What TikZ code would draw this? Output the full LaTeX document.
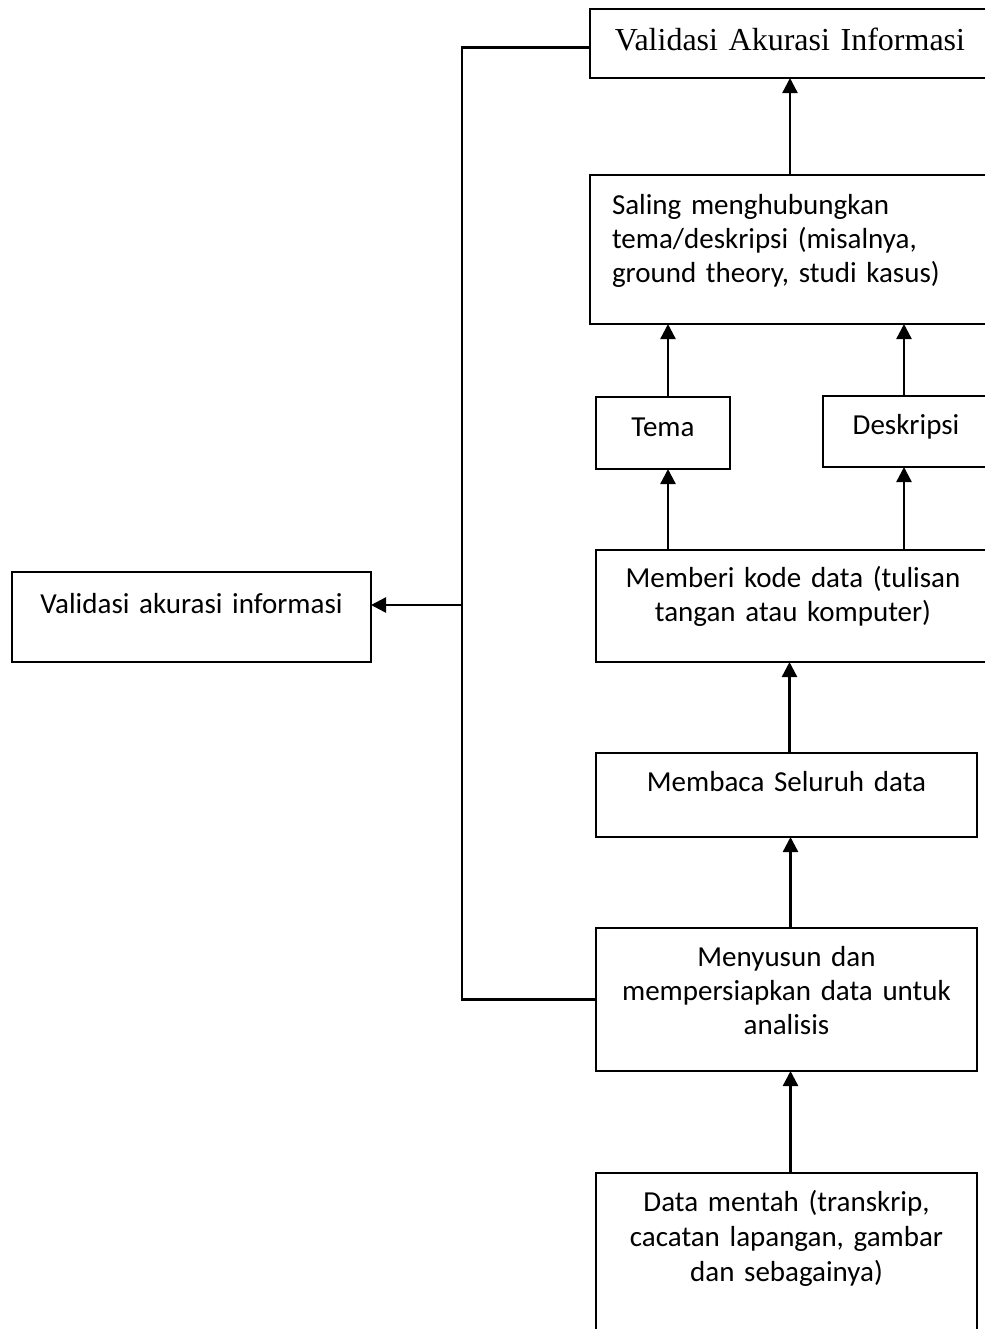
\documentclass[tikz,border=0pt]{standalone}
\usepackage{fontspec}
\setmainfont{Carlito}
\newfontfamily\serifkop{Liberation Serif}
\usetikzlibrary{arrows.meta}

\tikzset{
  kotak/.style={draw, line width=0.6pt, inner sep=0pt, outer sep=0pt, anchor=north west,
    align=center, font=\fontsize{14.5pt}{17pt}\selectfont},
  panah/.style={line width=1.2pt, ->, >={Triangle[length=7.5pt,width=7.5pt]}},
  balik/.style={line width=1.1pt}
}

\begin{document}
\begin{tikzpicture}[x=0.5pt,y=-0.5pt]
                \path[use as bounding box, clip] (0,0) rectangle (985,1329);
                % kotak-kotak
                \node[kotak, text width=200pt, text height=20.5pt, text depth=14pt,
                  font=\serifkop\fontsize{16pt}{19pt}\selectfont] (atas) at (590,9) {Validasi Akurasi Informasi};
                \node[kotak, text width=178pt, inner xsep=11pt, align=left, text height=19.5pt, text depth=55pt] (sintesis) at (590,175)
                  {Saling menghubungkan\\tema/deskripsi (misalnya,\\ground theory, studi kasus)};
                \node[kotak, text width=67pt, text height=19.5pt, text depth=16.5pt] (tema) at (596,397) {Tema};
                \node[kotak, text width=83pt, text height=19pt, text depth=16.5pt] (deskripsi) at (823,396) {Deskripsi};
                \node[kotak, text width=197pt, text height=18.5pt, text depth=37.5pt] (kode) at (596,550)
                  {Memberi kode data (tulisan\\tangan atau komputer)};
                \node[kotak, text width=190.5pt, text height=19pt, text depth=23pt] (baca) at (596,753) {Membaca Seluruh data};
                \node[kotak, text width=190.5pt, text height=19pt, text depth=52.5pt] (susun) at (596,928)
                  {Menyusun dan\\mempersiapkan data untuk\\analisis};
                \node[kotak, text width=190.5pt, text height=19pt, text depth=81pt,
                  font=\fontsize{14.5pt}{17.5pt}\selectfont] (mentah) at (596,1173)
                  {Data mentah (transkrip,\\cacatan lapangan, gambar\\dan sebagainya)};
                \node[kotak, text width=179.5pt, text height=20.5pt, text depth=24.5pt] (kiri) at (12,572) {Validasi akurasi informasi};
                \coordinate (simpul) at (462,605);
                % panah ke atas
                \draw[panah] ([xshift=2pt]mentah.north) -- ([xshift=2pt]mentah.north |- susun.south);
                \draw[panah] ([xshift=2pt]susun.north) -- ([xshift=2pt]susun.north |- baca.south);
                \draw[panah] ([xshift=1.5pt]baca.north) -- ([xshift=1.5pt]baca.north |- kode.south);
                \draw[panah] ([xshift=2.5pt]kode.north -| tema.south) -- ([xshift=2.5pt]tema.south);
                \draw[panah] ([xshift=-1pt]kode.north -| deskripsi.south) -- ([xshift=-1pt]deskripsi.south);
                \draw[panah] ([xshift=2.5pt]tema.north) -- ([xshift=2.5pt]tema.north |- sintesis.south);
                \draw[panah] ([xshift=-1pt]deskripsi.north) -- ([xshift=-1pt]deskripsi.north |- sintesis.south);
                \draw[panah] (sintesis.north) -- (atas.south);
                % garis balik
                \draw[balik] ([yshift=-2pt]atas.west) -| (simpul) |- (susun.west);
                \draw[panah] (simpul) -- (simpul -| kiri.east);
            \end{tikzpicture}
\end{document}
